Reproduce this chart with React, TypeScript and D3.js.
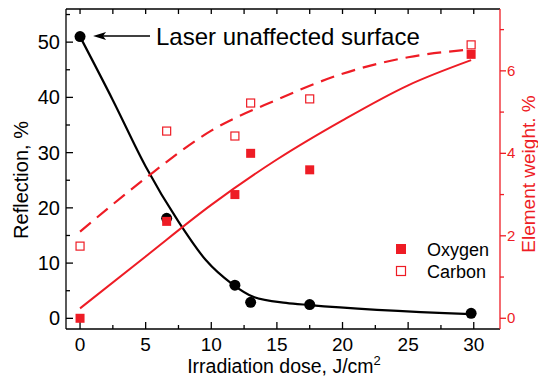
import React, { useEffect, useRef } from 'react';
import * as d3 from 'd3';

// measured points (dose in J/cm2)
const doses = [0, 6.6, 11.8, 13.0, 17.5, 29.8];
const reflection = [51, 18.1, 6.0, 2.9, 2.5, 0.9];
const oxygen = [0, 2.35, 3.0, 4.0, 3.6, 6.4];
const carbon = [1.75, 4.54, 4.42, 5.22, 5.32, 6.63];

// fitted curves
const reflFitX = [0, 2.5, 5, 7.5, 9.6, 11.6, 13.2, 15.7, 17.5, 29.8];
const reflFitY = [51, 39.5, 27.5, 17.5, 10.5, 6.2, 3.9, 2.8, 2.4, 0.75];
const oxyFitX = [0, 5, 10, 15, 20, 25, 29.8];
const oxyFitY = [0.24, 1.5, 2.75, 3.85, 4.8, 5.65, 6.26];
const carbFitX = [0, 5, 10, 15, 20, 25, 29.8];
const carbFitY = [2.1, 3.4, 4.55, 5.3, 5.93, 6.33, 6.52];

const xTicks = [0, 5, 10, 15, 20, 25, 30];
const leftTicks = [0, 10, 20, 30, 40, 50];
const rightTicks = [0, 2, 4, 6];

const RED = '#ee1c25';
const FONT = '"Liberation Sans", Arial, sans-serif';

export default function App() {
  const svgRef = useRef<SVGSVGElement>(null);

  useEffect(() => {
    if (!svgRef.current) return;
    const width = 538;
    const height = 378;
    const left = 66, right = 500, top = 9, bottom = 329;

    const svg = d3.select(svgRef.current);
    svg.selectAll('*').remove();
    svg.attr('width', width).attr('height', height);

    const x = d3.scaleLinear().domain([-1.07, 32]).range([left, right]);
    const yL = d3.scaleLinear().domain([-1.93, 56]).range([bottom, top]);
    const yR = d3.scaleLinear().domain([-0.26, 7.5]).range([bottom, top]);

    // frame: bottom, left, top in black; right in red
    const frame = svg.append('g');
    frame.append('line').attr('x1', left).attr('x2', right).attr('y1', bottom).attr('y2', bottom)
      .attr('stroke', '#000').attr('stroke-width', 1.3);
    frame.append('line').attr('x1', left).attr('x2', right).attr('y1', top).attr('y2', top)
      .attr('stroke', '#000').attr('stroke-width', 1.3);
    frame.append('line').attr('x1', left).attr('x2', left).attr('y1', top).attr('y2', bottom)
      .attr('stroke', '#000').attr('stroke-width', 1.3);
    frame.append('line').attr('x1', right).attr('x2', right).attr('y1', top).attr('y2', bottom)
      .attr('stroke', RED).attr('stroke-width', 1.3);

    // x ticks (bottom inward, top inward)
    const xMinor = d3.range(2.5, 31, 5);
    xTicks.forEach(t => {
      frame.append('line').attr('x1', x(t)).attr('x2', x(t)).attr('y1', bottom).attr('y2', bottom - 7)
        .attr('stroke', '#000').attr('stroke-width', 1.3);
      frame.append('line').attr('x1', x(t)).attr('x2', x(t)).attr('y1', top).attr('y2', top + 5)
        .attr('stroke', '#000').attr('stroke-width', 1.3);
      svg.append('text').attr('x', x(t)).attr('y', 351).attr('text-anchor', 'middle')
        .style('font-family', FONT).style('font-size', '19px').attr('fill', '#000').text(t);
    });
    xMinor.forEach(t => {
      frame.append('line').attr('x1', x(t)).attr('x2', x(t)).attr('y1', bottom).attr('y2', bottom - 4)
        .attr('stroke', '#000').attr('stroke-width', 1.3);
      frame.append('line').attr('x1', x(t)).attr('x2', x(t)).attr('y1', top).attr('y2', top + 5)
        .attr('stroke', '#000').attr('stroke-width', 1.3);
    });

    // left ticks (inward)
    leftTicks.forEach(t => {
      frame.append('line').attr('x1', left).attr('x2', left + 7).attr('y1', yL(t)).attr('y2', yL(t))
        .attr('stroke', '#000').attr('stroke-width', 1.3);
      svg.append('text').attr('x', 60).attr('y', yL(t) + 7).attr('text-anchor', 'end')
        .style('font-family', FONT).style('font-size', '20px').attr('fill', '#000').text(t);
    });
    d3.range(5, 56, 10).forEach(t => {
      frame.append('line').attr('x1', left).attr('x2', left + 4).attr('y1', yL(t)).attr('y2', yL(t))
        .attr('stroke', '#000').attr('stroke-width', 1.3);
    });

    // right ticks (outward, red)
    rightTicks.forEach(t => {
      frame.append('line').attr('x1', right).attr('x2', right + 6).attr('y1', yR(t)).attr('y2', yR(t))
        .attr('stroke', RED).attr('stroke-width', 1.3);
      svg.append('text').attr('x', 507).attr('y', yR(t) + 5).attr('text-anchor', 'start')
        .style('font-family', FONT).style('font-size', '15px').attr('fill', RED).text(t);
    });
    [1, 3, 5, 7].forEach(t => {
      frame.append('line').attr('x1', right).attr('x2', right + 4).attr('y1', yR(t)).attr('y2', yR(t))
        .attr('stroke', RED).attr('stroke-width', 1.3);
    });

    // axis titles
    const xt = svg.append('text').attr('x', 284).attr('y', 373).attr('text-anchor', 'middle')
      .style('font-family', FONT).style('font-size', '19.5px').attr('fill', '#000');
    xt.append('tspan').text('Irradiation dose, J/cm');
    xt.append('tspan').attr('dy', -8).style('font-size', '13px').text('2');

    svg.append('text').attr('transform', `translate(28,180) rotate(-90)`).attr('text-anchor', 'middle')
      .style('font-family', FONT).style('font-size', '20px').attr('fill', '#000').text('Reflection, %');

    svg.append('text').attr('transform', `translate(535,174) rotate(-90)`).attr('text-anchor', 'middle')
      .style('font-family', FONT).style('font-size', '19px').attr('fill', RED).text('Element weight. %');

    // curves
    const reflLine = d3.line<number>().x((d, i) => x(reflFitX[i])).y(d => yL(d)).curve(d3.curveMonotoneX);
    const rLine = d3.line<number>().x((d, i) => x(oxyFitX[i])).y(d => yR(d)).curve(d3.curveMonotoneX);
    const cLine = d3.line<number>().x((d, i) => x(carbFitX[i])).y(d => yR(d)).curve(d3.curveMonotoneX);

    svg.append('path').datum(reflFitY).attr('d', reflLine).attr('fill', 'none')
      .attr('stroke', '#000').attr('stroke-width', 2.2);

    svg.selectAll('circle.refl').data(reflection).enter().append('circle')
      .attr('cx', (d, i) => x(doses[i])).attr('cy', d => yL(d)).attr('r', 5.5).attr('fill', '#000');

    svg.append('path').datum(oxyFitY).attr('d', rLine).attr('fill', 'none')
      .attr('stroke', RED).attr('stroke-width', 2);
    svg.append('path').datum(carbFitY).attr('d', cLine).attr('fill', 'none')
      .attr('stroke', RED).attr('stroke-width', 2.2).attr('stroke-dasharray', '14,8');

    const s = 9;
    svg.selectAll('rect.oxy').data(oxygen).enter().append('rect')
      .attr('x', (d, i) => x(doses[i]) - s / 2).attr('y', d => yR(d) - s / 2)
      .attr('width', s).attr('height', s).attr('fill', RED);
    svg.selectAll('rect.carb').data(carbon).enter().append('rect')
      .attr('x', (d, i) => x(doses[i]) - s / 2 + 0.5).attr('y', d => yR(d) - s / 2 + 0.5)
      .attr('width', s - 1).attr('height', s - 1).attr('fill', '#fff')
      .attr('stroke', RED).attr('stroke-width', 1.2);

    // annotation
    const ay = yL(51) - 0.5;
    svg.append('line').attr('x1', x(0) + 22).attr('x2', 150).attr('y1', ay).attr('y2', ay)
      .attr('stroke', '#000').attr('stroke-width', 1.5);
    svg.append('path')
      .attr('d', `M${x(0) + 13},${ay} L${x(0) + 26},${ay - 4} L${x(0) + 23},${ay} L${x(0) + 26},${ay + 4} Z`)
      .attr('fill', '#000');
    svg.append('text').attr('x', 156).attr('y', 44.5)
      .style('font-family', FONT).style('font-size', '24px').attr('fill', '#000')
      .text('Laser unaffected surface');

    // legend
    const lg = svg.append('g');
    lg.append('rect').attr('x', 401 - 5).attr('y', 249 - 5).attr('width', 10).attr('height', 10).attr('fill', RED);
    lg.append('rect').attr('x', 401 - 4.5).attr('y', 271 - 4.5).attr('width', 9).attr('height', 9)
      .attr('fill', '#fff').attr('stroke', RED).attr('stroke-width', 1.2);
    lg.append('text').attr('x', 427).attr('y', 255.5).style('font-family', FONT).style('font-size', '18px')
      .attr('fill', '#000').text('Oxygen');
    lg.append('text').attr('x', 427).attr('y', 277.5).style('font-family', FONT).style('font-size', '18px')
      .attr('fill', '#000').text('Carbon');
  }, []);

  return (
    <div style={{ position: 'absolute', left: 0, top: 0, width: 538, height: 378, background: '#fff' }}>
      <svg ref={svgRef} style={{ display: 'block' }} />
    </div>
  );
}
